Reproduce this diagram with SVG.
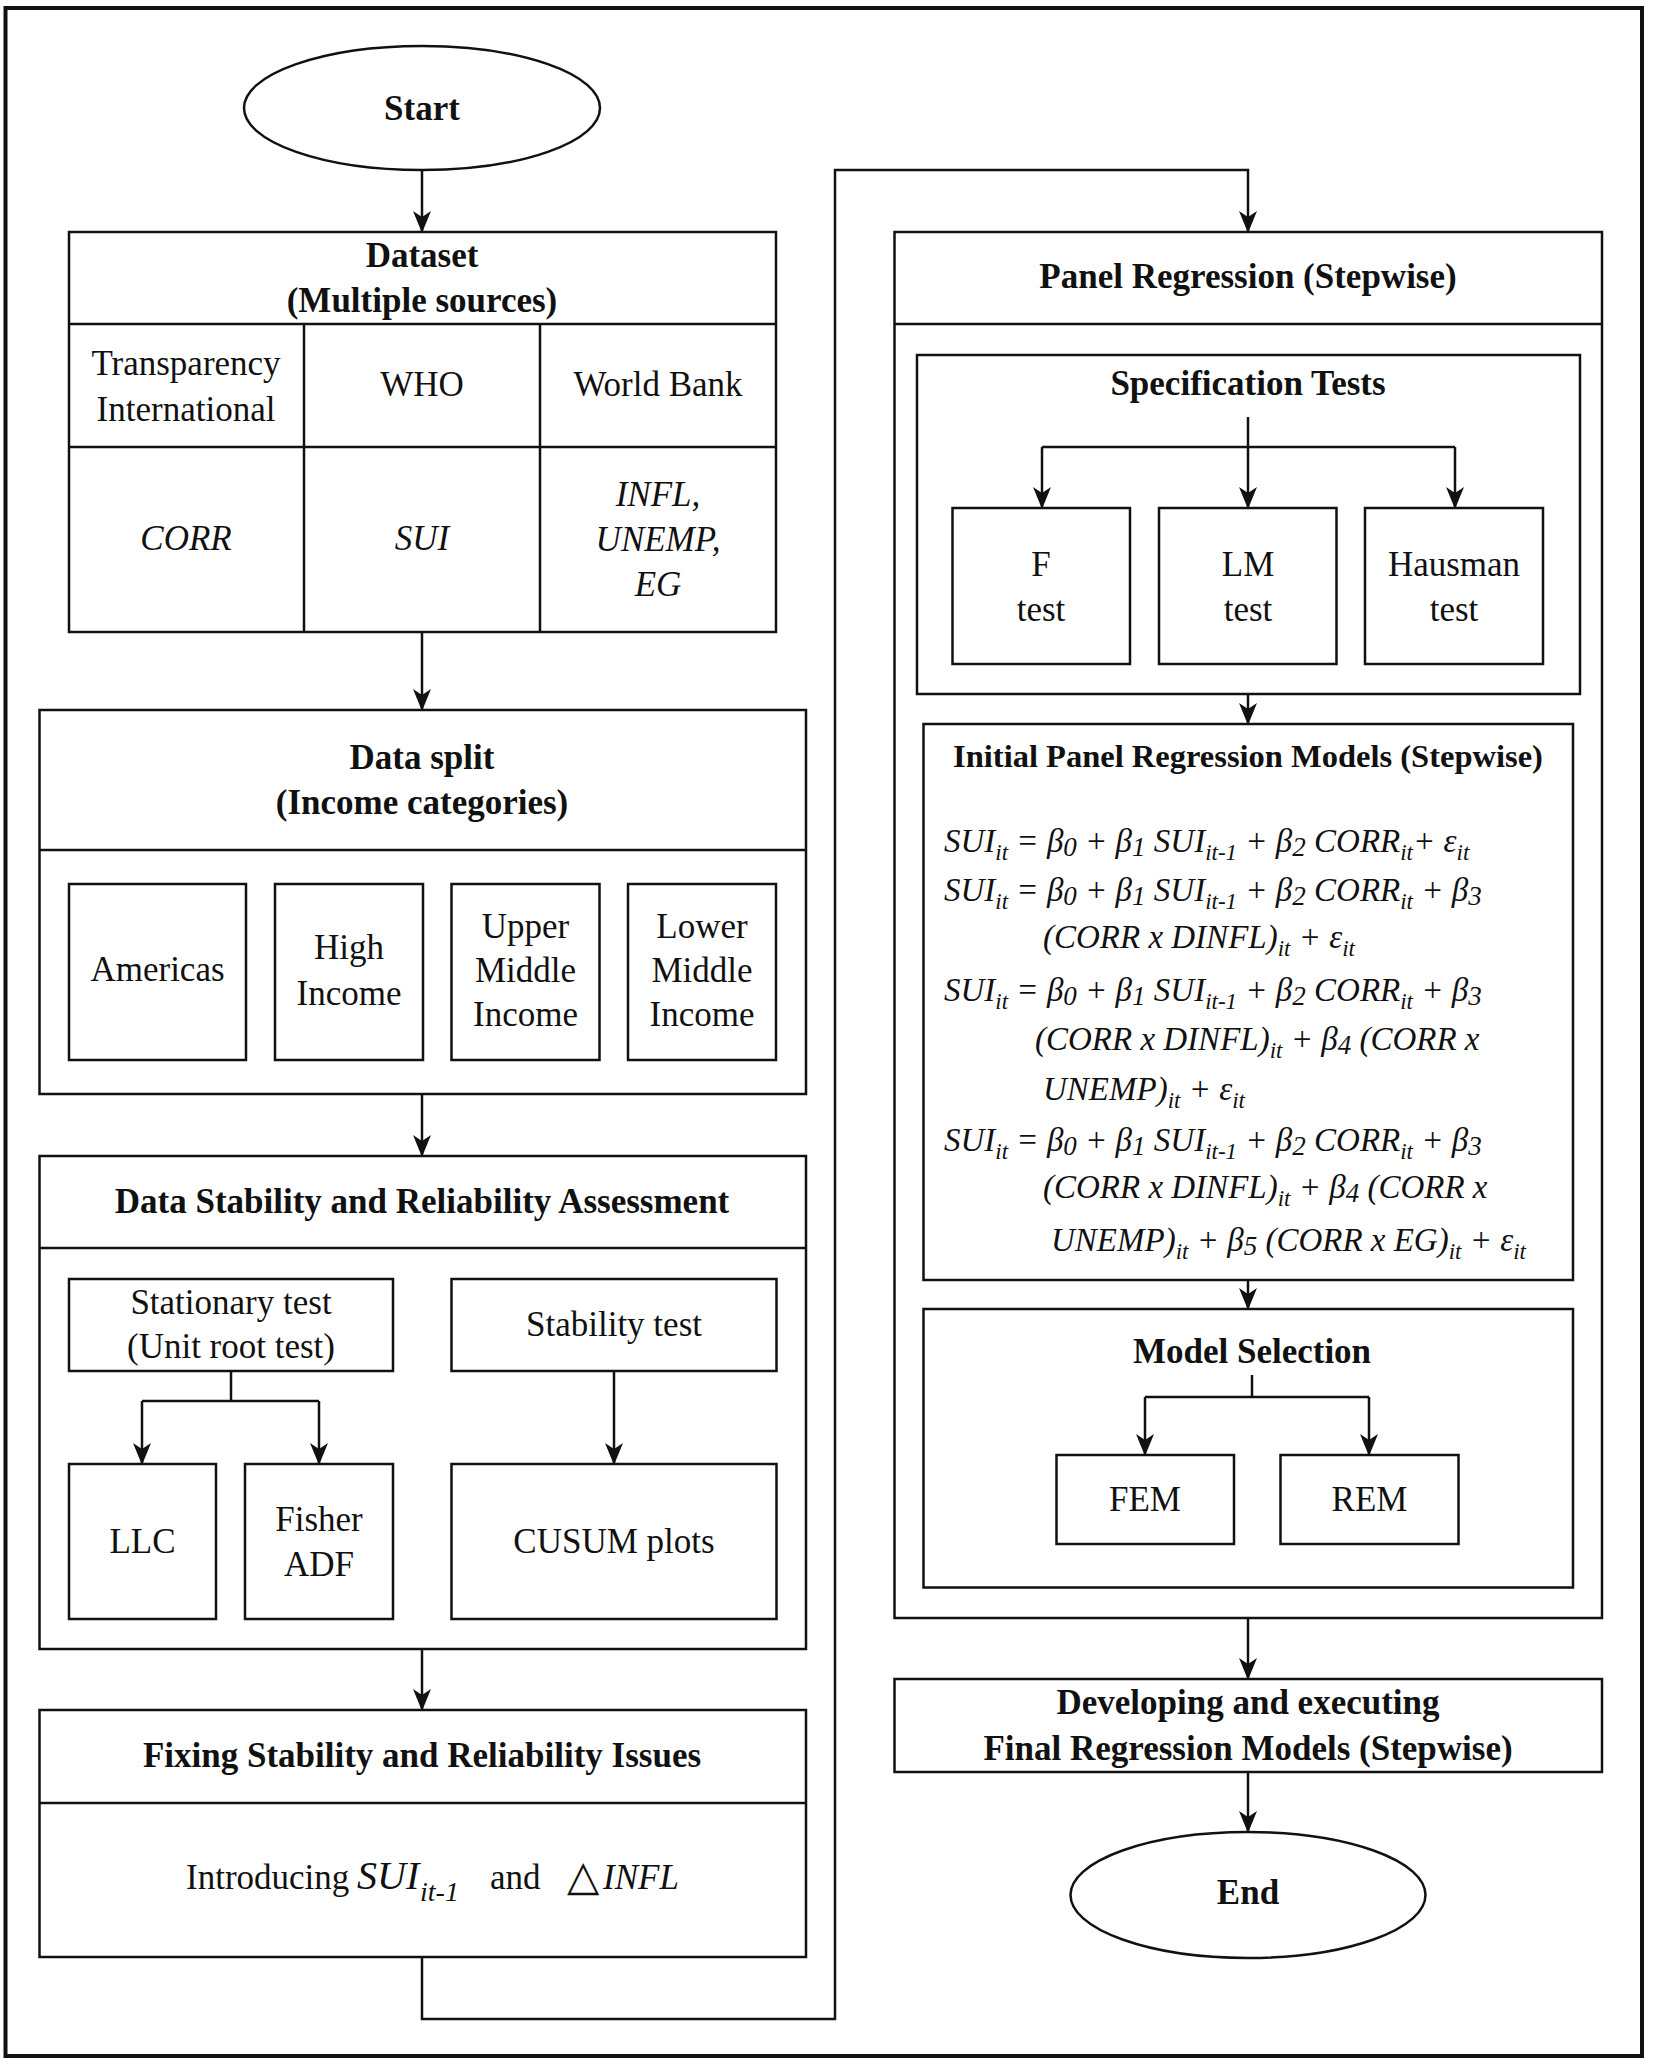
<svg xmlns="http://www.w3.org/2000/svg" width="1654" height="2065" viewBox="0 0 1654 2065">
<defs>
<style>
.box{fill:#fff;stroke:#111;stroke-width:2.5}
.ln{fill:none;stroke:#111;stroke-width:2.5}
.cn{fill:none;stroke:#111;stroke-width:2.5;marker-end:url(#ah)}
text{font-family:"Liberation Serif","Times New Roman",serif;fill:#111}
.b{font-size:35px;font-weight:bold;text-anchor:middle}
.t{font-size:35px;text-anchor:middle}
.it{font-style:italic}
.eq{font-size:33px;font-style:italic}
.sb{font-size:23px}
.sn{font-size:27px}
</style>
<marker id="ah" viewBox="0 0 22 18" refX="21" refY="9" markerWidth="22" markerHeight="18" markerUnits="userSpaceOnUse" orient="auto">
<path d="M0,0 L22,9 L0,18 L6,9 Z" fill="#111"/>
</marker>
</defs>
<rect x="5.5" y="8" width="1636.5" height="2048" fill="#fff" stroke="#111" stroke-width="4"/>

<g id="start">
<ellipse class="box" cx="422" cy="108" rx="178" ry="62"/>
<text class="b" x="422" y="120">Start</text>
</g>

<g id="dataset">
<rect class="box" x="69" y="232" width="707" height="400"/>
<line class="ln" x1="69" y1="324" x2="776" y2="324"/>
<line class="ln" x1="69" y1="447" x2="776" y2="447"/>
<line class="ln" x1="304" y1="324" x2="304" y2="632"/>
<line class="ln" x1="540" y1="324" x2="540" y2="632"/>
<text class="b" x="422" y="267">Dataset</text>
<text class="b" x="422" y="312">(Multiple sources)</text>
<text class="t" x="186" y="375">Transparency</text>
<text class="t" x="186" y="421">International</text>
<text class="t" x="422" y="396">WHO</text>
<text class="t" x="658" y="396">World Bank</text>
<text class="t it" x="186" y="550">CORR</text>
<text class="t it" x="422" y="550">SUI</text>
<text class="t it" x="658" y="506">INFL,</text>
<text class="t it" x="658" y="551">UNEMP,</text>
<text class="t it" x="658" y="596">EG</text>
</g>

<g id="data-split">
<rect class="box" x="39.5" y="710" width="766.5" height="384"/>
<line class="ln" x1="39.5" y1="850" x2="806" y2="850"/>
<text class="b" x="422" y="769">Data split</text>
<text class="b" x="422" y="814">(Income categories)</text>
</g>
<g id="americas">
<rect class="box" x="69" y="884" width="177" height="176"/>
<text class="t" x="157.5" y="981">Americas</text>
</g>
<g id="high-income">
<rect class="box" x="275" y="884" width="148" height="176"/>
<text class="t" x="349" y="959">High</text>
<text class="t" x="349" y="1005">Income</text>
</g>
<g id="upper-middle">
<rect class="box" x="451.5" y="884" width="148" height="176"/>
<text class="t" x="525.5" y="938">Upper</text>
<text class="t" x="525.5" y="982">Middle</text>
<text class="t" x="525.5" y="1026">Income</text>
</g>
<g id="lower-middle">
<rect class="box" x="628" y="884" width="148" height="176"/>
<text class="t" x="702" y="938">Lower</text>
<text class="t" x="702" y="982">Middle</text>
<text class="t" x="702" y="1026">Income</text>
</g>

<g id="stability-assessment">
<rect class="box" x="39.5" y="1156" width="766.5" height="493"/>
<line class="ln" x1="39.5" y1="1248" x2="806" y2="1248"/>
<text class="b" x="422" y="1213">Data Stability and Reliability Assessment</text>
</g>
<g id="stationary-test">
<rect class="box" x="69" y="1279" width="324" height="92"/>
<text class="t" x="231" y="1314">Stationary test</text>
<text class="t" x="231" y="1358">(Unit root test)</text>
</g>
<g id="stability-test">
<rect class="box" x="451.5" y="1279" width="325" height="92"/>
<text class="t" x="614" y="1336">Stability test</text>
</g>
<g id="llc">
<rect class="box" x="69" y="1464" width="147" height="155"/>
<text class="t" x="142.5" y="1553">LLC</text>
</g>
<g id="fisher-adf">
<rect class="box" x="245" y="1464" width="148" height="155"/>
<text class="t" x="319" y="1531">Fisher</text>
<text class="t" x="319" y="1576">ADF</text>
</g>
<g id="cusum">
<rect class="box" x="451.5" y="1464" width="325" height="155"/>
<text class="t" x="614" y="1553">CUSUM plots</text>
</g>

<g id="fixing">
<rect class="box" x="39.5" y="1710" width="766.5" height="247"/>
<line class="ln" x1="39.5" y1="1803" x2="806" y2="1803"/>
<text class="b" x="422" y="1767">Fixing Stability and Reliability Issues</text>
<text x="186" y="1889" font-size="35">Introducing</text>
<text x="357" y="1889" font-size="40" font-style="italic">SUI</text>
<text x="420" y="1901" font-size="28" font-style="italic">it-1</text>
<text x="490" y="1889" font-size="35">and</text>
<text x="567" y="1890" font-size="42" font-family="DejaVu Sans, sans-serif">△</text>
<text x="603" y="1889" font-size="35" font-style="italic">INFL</text>
</g>

<g id="panel-regression">
<rect class="box" x="894.5" y="232" width="707.5" height="1386"/>
<line class="ln" x1="894.5" y1="324" x2="1602" y2="324"/>
<text class="b" x="1248" y="288">Panel Regression (Stepwise)</text>
</g>
<g id="specification-tests">
<rect class="box" x="917" y="355" width="663" height="339"/>
<text class="b" x="1248" y="395">Specification Tests</text>
</g>
<g id="f-test">
<rect class="box" x="952.5" y="508" width="177.5" height="156"/>
<text class="t" x="1041" y="576">F</text>
<text class="t" x="1041" y="621">test</text>
</g>
<g id="lm-test">
<rect class="box" x="1159" y="508" width="177.5" height="156"/>
<text class="t" x="1248" y="576">LM</text>
<text class="t" x="1248" y="621">test</text>
</g>
<g id="hausman-test">
<rect class="box" x="1365" y="508" width="178" height="156"/>
<text class="t" x="1454" y="576">Hausman</text>
<text class="t" x="1454" y="621">test</text>
</g>

<g id="initial-models">
<rect class="box" x="923.5" y="724" width="649.5" height="556"/>
<text class="b" x="1248" y="767" style="font-size:32.5px">Initial Panel Regression Models (Stepwise)</text>
<text class="eq" x="944" y="852">SUI<tspan class="sb" dy="8">it</tspan><tspan dy="-8"> = β</tspan><tspan class="sn" dy="4">0</tspan><tspan dy="-4"> + β</tspan><tspan class="sn" dy="4">1</tspan><tspan dy="-4"> SUI</tspan><tspan class="sb" dy="8">it-1</tspan><tspan dy="-8"> + β</tspan><tspan class="sn" dy="4">2</tspan><tspan dy="-4"> CORR</tspan><tspan class="sb" dy="8">it</tspan><tspan dy="-8">+ ε</tspan><tspan class="sb" dy="8">it</tspan></text>
<text class="eq" x="944" y="901">SUI<tspan class="sb" dy="8">it</tspan><tspan dy="-8"> = β</tspan><tspan class="sn" dy="4">0</tspan><tspan dy="-4"> + β</tspan><tspan class="sn" dy="4">1</tspan><tspan dy="-4"> SUI</tspan><tspan class="sb" dy="8">it-1</tspan><tspan dy="-8"> + β</tspan><tspan class="sn" dy="4">2</tspan><tspan dy="-4"> CORR</tspan><tspan class="sb" dy="8">it</tspan><tspan dy="-8"> + β</tspan><tspan class="sn" dy="4">3</tspan></text>
<text class="eq" x="1043" y="948">(CORR x DINFL)<tspan class="sb" dy="8">it</tspan><tspan dy="-8"> + ε</tspan><tspan class="sb" dy="8">it</tspan></text>
<text class="eq" x="944" y="1001">SUI<tspan class="sb" dy="8">it</tspan><tspan dy="-8"> = β</tspan><tspan class="sn" dy="4">0</tspan><tspan dy="-4"> + β</tspan><tspan class="sn" dy="4">1</tspan><tspan dy="-4"> SUI</tspan><tspan class="sb" dy="8">it-1</tspan><tspan dy="-8"> + β</tspan><tspan class="sn" dy="4">2</tspan><tspan dy="-4"> CORR</tspan><tspan class="sb" dy="8">it</tspan><tspan dy="-8"> + β</tspan><tspan class="sn" dy="4">3</tspan></text>
<text class="eq" x="1035" y="1050">(CORR x DINFL)<tspan class="sb" dy="8">it</tspan><tspan dy="-8"> + β</tspan><tspan class="sn" dy="4">4</tspan><tspan dy="-4"> (CORR x</tspan></text>
<text class="eq" x="1043" y="1100">UNEMP)<tspan class="sb" dy="8">it</tspan><tspan dy="-8"> + ε</tspan><tspan class="sb" dy="8">it</tspan></text>
<text class="eq" x="944" y="1151">SUI<tspan class="sb" dy="8">it</tspan><tspan dy="-8"> = β</tspan><tspan class="sn" dy="4">0</tspan><tspan dy="-4"> + β</tspan><tspan class="sn" dy="4">1</tspan><tspan dy="-4"> SUI</tspan><tspan class="sb" dy="8">it-1</tspan><tspan dy="-8"> + β</tspan><tspan class="sn" dy="4">2</tspan><tspan dy="-4"> CORR</tspan><tspan class="sb" dy="8">it</tspan><tspan dy="-8"> + β</tspan><tspan class="sn" dy="4">3</tspan></text>
<text class="eq" x="1043" y="1198">(CORR x DINFL)<tspan class="sb" dy="8">it</tspan><tspan dy="-8"> + β</tspan><tspan class="sn" dy="4">4</tspan><tspan dy="-4"> (CORR x</tspan></text>
<text class="eq" x="1051" y="1251">UNEMP)<tspan class="sb" dy="8">it</tspan><tspan dy="-8"> + β</tspan><tspan class="sn" dy="4">5</tspan><tspan dy="-4"> (CORR x EG)</tspan><tspan class="sb" dy="8">it</tspan><tspan dy="-8"> + ε</tspan><tspan class="sb" dy="8">it</tspan></text>
</g>

<g id="model-selection">
<rect class="box" x="923.5" y="1309" width="649.5" height="278.5"/>
<text class="b" x="1252" y="1363">Model Selection</text>
</g>
<g id="fem">
<rect class="box" x="1056.5" y="1455" width="177.5" height="89"/>
<text class="t" x="1145" y="1511">FEM</text>
</g>
<g id="rem">
<rect class="box" x="1280.5" y="1455" width="178" height="89"/>
<text class="t" x="1369.5" y="1511">REM</text>
</g>

<g id="final-models">
<rect class="box" x="894.5" y="1679" width="707.5" height="93"/>
<text class="b" x="1248" y="1714">Developing and executing</text>
<text class="b" x="1248" y="1760">Final Regression Models (Stepwise)</text>
</g>

<g id="end">
<ellipse class="box" cx="1248" cy="1895" rx="177.5" ry="63"/>
<text class="b" x="1248" y="1904">End</text>
</g>

<g id="connectors">
<line class="cn" x1="422" y1="170" x2="422" y2="232"/>
<line class="cn" x1="422" y1="632" x2="422" y2="710"/>
<line class="cn" x1="422" y1="1094" x2="422" y2="1156"/>
<line class="ln" x1="231" y1="1371" x2="231" y2="1401"/>
<line class="ln" x1="142" y1="1401" x2="319" y2="1401"/>
<line class="cn" x1="142" y1="1401" x2="142" y2="1464"/>
<line class="cn" x1="319" y1="1401" x2="319" y2="1464"/>
<line class="cn" x1="614" y1="1371" x2="614" y2="1464"/>
<line class="cn" x1="422" y1="1649" x2="422" y2="1710"/>
<polyline class="cn" points="422,1957 422,2019 835,2019 835,170 1248,170 1248,232"/>
<line class="cn" x1="1248" y1="417" x2="1248" y2="508"/>
<line class="ln" x1="1042" y1="447" x2="1455" y2="447"/>
<line class="cn" x1="1042" y1="447" x2="1042" y2="508"/>
<line class="cn" x1="1455" y1="447" x2="1455" y2="508"/>
<line class="cn" x1="1248" y1="694" x2="1248" y2="724"/>
<line class="cn" x1="1248" y1="1280" x2="1248" y2="1309"/>
<line class="ln" x1="1252" y1="1375" x2="1252" y2="1397"/>
<line class="ln" x1="1145" y1="1397" x2="1369" y2="1397"/>
<line class="cn" x1="1145" y1="1397" x2="1145" y2="1455"/>
<line class="cn" x1="1369" y1="1397" x2="1369" y2="1455"/>
<line class="cn" x1="1248" y1="1618" x2="1248" y2="1679"/>
<line class="cn" x1="1248" y1="1772" x2="1248" y2="1832"/>
</g>
</svg>
